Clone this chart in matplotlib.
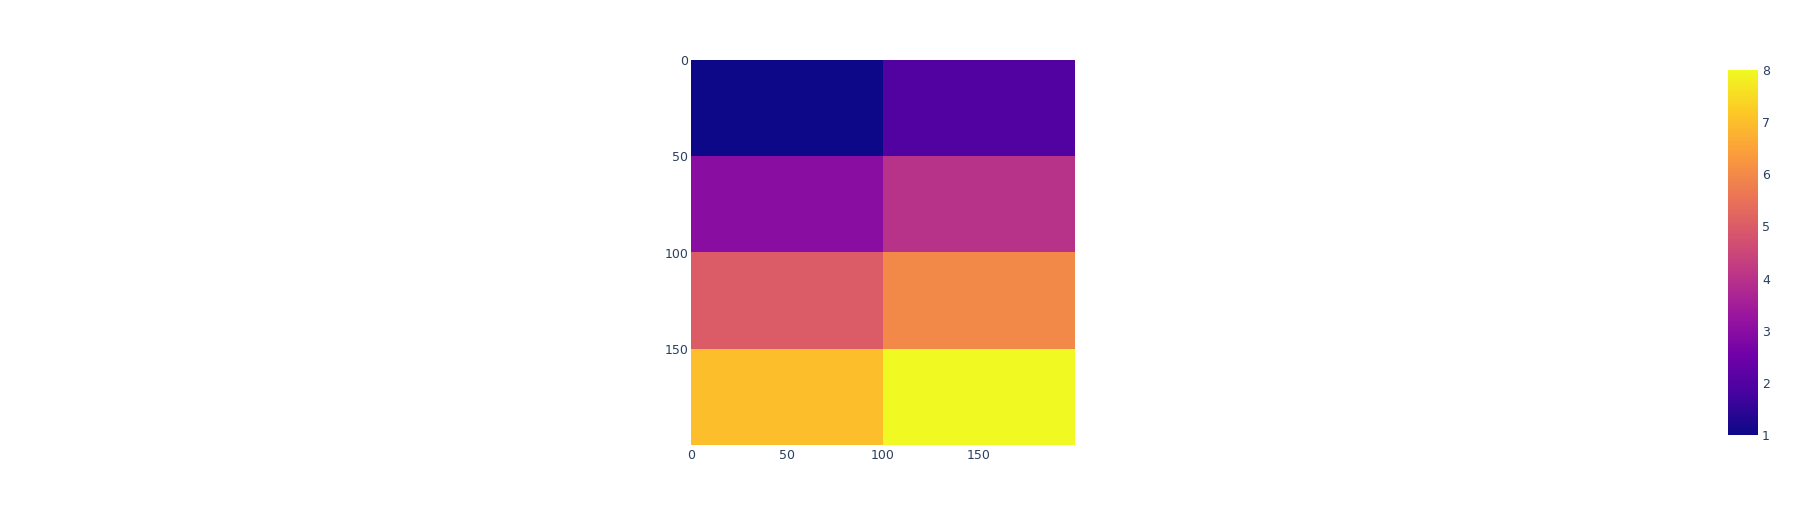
import numpy as np
import matplotlib
matplotlib.use('Agg')
import matplotlib.pyplot as plt
from matplotlib.colors import LinearSegmentedColormap

# cell values, 4 rows x 2 columns
values = [[1, 2],
          [3, 4],
          [5, 6],
          [7, 8]]
x_ticks = [0, 50, 100, 150]
y_ticks = [0, 50, 100, 150]
cbar_ticks = [1, 2, 3, 4, 5, 6, 7, 8]

# plotly's plasma scale
plasma_stops = ['#0d0887', '#46039f', '#7201a8', '#9c179e', '#bd3786',
                '#d8576b', '#ed7953', '#fb9f3a', '#fdca26', '#f0f921']
cmap = LinearSegmentedColormap.from_list('plotly_plasma', plasma_stops)

W, H = 1793, 525
fig = plt.figure(figsize=(W / 100, H / 100), dpi=100)
plt.rcParams['font.family'] = ['DejaVu Sans']
txt = '#2a3f5f'

# main heatmap
ax = fig.add_axes((691 / W, 1 - 445 / H, 384 / W, 385 / H))
data = np.array(values)
im = ax.imshow(data, cmap=cmap, vmin=1, vmax=8, extent=(0, 200, 200, 0),
               aspect='auto', interpolation='nearest')
ax.set_xlim(0, 200)
ax.set_ylim(200, 0)
ax.set_xticks(x_ticks)
ax.set_yticks(y_ticks)
ax.tick_params(length=0, labelsize=9, colors=txt)
ax.tick_params(axis='x', pad=3)
ax.tick_params(axis='y', pad=2)
for s in ax.spines.values():
    s.set_visible(False)

# colorbar
cax = fig.add_axes((1728 / W, 1 - 435 / H, 30 / W, 365 / H))
cb = fig.colorbar(im, cax=cax, ticks=cbar_ticks)
cb.outline.set_visible(False)
cax.tick_params(length=0, labelsize=9, colors=txt, pad=3)

fig.savefig('out.png', dpi=100, facecolor='white')
